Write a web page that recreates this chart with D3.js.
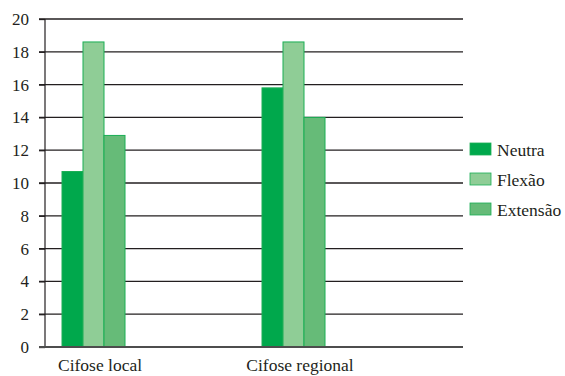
<!DOCTYPE html>
<html>
<head>
<meta charset="utf-8">
<script src="https://d3js.org/d3.v7.min.js"></script>
<style>
  body { margin: 0; background: #fff; }
  svg text { font-family: "Liberation Serif", Tinos, "Times New Roman", "DejaVu Serif", "Noto Serif", serif !important; fill: #231f20; }
</style>
</head>
<body>
<div id="chart"></div>
<script>
// data
const categories = ["Cifose local", "Cifose regional"];
const series = ["Neutra", "Flexão", "Extensão"];
const neutra = [10.7, 15.8];
const flexao = [18.6, 18.6];
const extensao = [12.9, 14.0];
const yTicks = [0, 2, 4, 6, 8, 10, 12, 14, 16, 18, 20];

const values = [neutra, flexao, extensao];
const colors = ["#00a84c", "#8fcd96", "#66bb78"];

const W = 565, H = 376;
const plotLeft = 45, plotRight = 463, plotTop = 19, plotBottom = 347;

const svg = d3.select("#chart").append("svg")
  .attr("width", W).attr("height", H);

const y = d3.scaleLinear().domain([0, 20]).range([plotBottom, plotTop]);

// category bands, bars sit at the left part of each band
const x = d3.scaleBand().domain(categories).range([plotLeft, plotLeft + 400]);
const xs = d3.scaleBand().domain(series).range([17, 80]);

// gridlines
svg.append("g").selectAll("line")
  .data(yTicks.filter(d => d > 0))
  .join("line")
    .attr("x1", plotLeft - 6).attr("x2", plotRight)
    .attr("y1", d => y(d)).attr("y2", d => y(d))
    .attr("stroke", "#231f20").attr("stroke-width", 1.3);

// y axis
const yAxis = svg.append("g")
  .attr("transform", `translate(${plotLeft},0)`)
  .call(d3.axisLeft(y).tickValues(yTicks).tickSize(6).tickPadding(10));
yAxis.attr("font-family", null);
yAxis.select(".domain").attr("stroke", "#231f20").attr("stroke-width", 1.2)
  .attr("d", `M0,${plotTop}V${plotBottom}`);
yAxis.selectAll(".tick line").attr("stroke", "#231f20").attr("stroke-width", 1.3);
yAxis.selectAll(".tick text").attr("font-size", 17);

// bars
svg.append("g").selectAll("g")
  .data(series)
  .join("g")
  .each(function(s, i) {
    d3.select(this).selectAll("rect")
      .data(values[i])
      .join("rect")
        .attr("x", (d, j) => x(categories[j]) + xs(s))
        .attr("y", d => y(d))
        .attr("width", xs.bandwidth())
        .attr("height", d => y(0) - y(d))
        .attr("fill", colors[i])
        .attr("stroke", "#1bae55")
        .attr("stroke-width", 1);
  });

// x axis line
svg.append("line")
  .attr("x1", plotLeft - 6).attr("x2", plotRight)
  .attr("y1", plotBottom).attr("y2", plotBottom)
  .attr("stroke", "#4d4d4d").attr("stroke-width", 2);

// category labels
svg.append("g").selectAll("text")
  .data(categories)
  .join("text")
    .attr("x", d => x(d) + 55)
    .attr("y", plotBottom + 24)
    .attr("text-anchor", "middle")
    .attr("font-size", 17.5)
    .text(d => d);

// legend
const legend = svg.append("g").attr("transform", "translate(470,143)");
const item = legend.selectAll("g")
  .data(series)
  .join("g")
    .attr("transform", (d, i) => `translate(0,${i * 30})`);
item.append("rect")
  .attr("width", 21).attr("height", 12)
  .attr("fill", (d, i) => colors[i])
  .attr("stroke", "#1bae55").attr("stroke-width", 0.8);
item.append("text")
  .attr("x", 27).attr("y", 13)
  .attr("font-size", 17.5)
  .text(d => d);
</script>
</body>
</html>
